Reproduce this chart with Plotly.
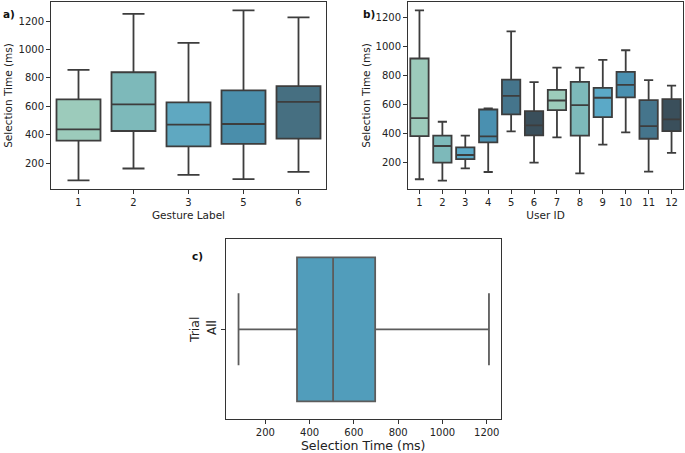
import plotly.graph_objects as go

# ---- data ----
gesture_labels = ["1", "2", "3", "5", "6"]
gesture_low = [79, 163, 118, 88, 139]
gesture_q1 = [359, 427, 319, 336, 373]
gesture_med = [438, 614, 471, 476, 632]
gesture_q3 = [649, 840, 628, 712, 742]
gesture_high = [857, 1251, 1046, 1275, 1226]
gesture_colors = ["#9ccbbb", "#7db9ba", "#5fa8c1", "#4a8eab", "#466f81"]

user_ids = ["1", "2", "3", "4", "5", "6", "7", "8", "9", "10", "11", "12"]
user_low = [88, 79, 163, 138, 417, 202, 376, 129, 326, 411, 141, 269]
user_q1 = [385, 202, 227, 342, 534, 390, 564, 388, 516, 651, 367, 420]
user_med = [509, 317, 255, 383, 662, 459, 630, 598, 649, 738, 454, 500]
user_q3 = [919, 388, 308, 568, 774, 557, 703, 758, 717, 827, 632, 639]
user_high = [1250, 484, 388, 575, 1106, 756, 857, 857, 909, 976, 770, 733]
user_colors = ["#9ccbbb", "#7db9ba", "#5ba9c7", "#4a90b0", "#45758c", "#3a4f5b",
               "#9ccbbb", "#7db9ba", "#5ba9c7", "#4a90b0", "#45758c", "#3a4f5b"]

trial_label = ["All"]
trial_low = [79]
trial_q1 = [343]
trial_med = [506]
trial_q3 = [696]
trial_high = [1210]
trial_color = "#519dbb"

FONT = "DejaVu Sans"
LINE = "#3d3d3d"
FRAME = "#333333"

fig = go.Figure()

for i, lab in enumerate(gesture_labels):
    fig.add_trace(go.Box(
        x=[lab], q1=[gesture_q1[i]], median=[gesture_med[i]], q3=[gesture_q3[i]],
        lowerfence=[gesture_low[i]], upperfence=[gesture_high[i]],
        boxpoints=False, width=0.8, whiskerwidth=0.5,
        fillcolor=gesture_colors[i], line=dict(color=LINE, width=1.8),
        xaxis="x", yaxis="y", showlegend=False))

for i, lab in enumerate(user_ids):
    fig.add_trace(go.Box(
        x=[lab], q1=[user_q1[i]], median=[user_med[i]], q3=[user_q3[i]],
        lowerfence=[user_low[i]], upperfence=[user_high[i]],
        boxpoints=False, width=0.8, whiskerwidth=0.5,
        fillcolor=user_colors[i], line=dict(color=LINE, width=1.8),
        xaxis="x2", yaxis="y2", showlegend=False))

fig.add_trace(go.Box(
    y=trial_label, q1=trial_q1, median=trial_med, q3=trial_q3,
    lowerfence=trial_low, upperfence=trial_high, orientation="h",
    boxpoints=False, width=0.8, whiskerwidth=0.5,
    fillcolor=trial_color, line=dict(color="#5c5c5c", width=1.8),
    xaxis="x3", yaxis="y3", showlegend=False))

W, H = 685, 453


def px_dom(a, b, total, flip=False):
    if flip:
        return [1 - b / total, 1 - a / total]
    return [a / total, b / total]


axis_common = dict(showline=True, mirror=True, linecolor=FRAME, linewidth=1,
                   ticks="outside", ticklen=4, tickwidth=1, tickcolor=FRAME,
                   showgrid=False, zeroline=False,
                   tickfont=dict(family=FONT, size=10, color="#222"))

fig.update_layout(
    width=W, height=H, margin=dict(l=0, r=0, t=0, b=0),
    paper_bgcolor="white", plot_bgcolor="white", boxmode="overlay",
    font=dict(family=FONT, size=10, color="#222"),
    xaxis=dict(domain=px_dom(51, 326, W), type="category", anchor="y",
               range=[-0.5, 4.5],
               title=dict(text="Gesture Label", standoff=4,
                          font=dict(family=FONT, size=10.5)), **axis_common),
    yaxis=dict(domain=px_dom(2, 189, H, flip=True), anchor="x",
               range=[19, 1334], tickvals=[200, 400, 600, 800, 1000, 1200],
               title=dict(text="Selection Time (ms)", standoff=3,
                          font=dict(family=FONT, size=10.5)), **axis_common),
    xaxis2=dict(domain=px_dom(408, 683, W), type="category", anchor="y2",
                range=[-0.5, 11.5],
                title=dict(text="User ID", standoff=4,
                           font=dict(family=FONT, size=10.5)), **axis_common),
    yaxis2=dict(domain=px_dom(2, 189, H, flip=True), anchor="x2",
                range=[21, 1308], tickvals=[200, 400, 600, 800, 1000, 1200],
                title=dict(text="Selection Time (ms)", standoff=2,
                           font=dict(family=FONT, size=10.5)), **axis_common),
    xaxis3=dict(domain=px_dom(225.7, 500.7, W), anchor="y3",
                range=[21, 1263], tickvals=[200, 400, 600, 800, 1000, 1200],
                title=dict(text="Selection Time (ms)", standoff=3,
                           font=dict(family=FONT, size=12.5)), **axis_common),
    yaxis3=dict(domain=px_dom(239.3, 419.3, H, flip=True), anchor="x3",
                type="category", range=[-0.5, 0.5], tickangle=-90,
                title=dict(text="Trial", standoff=2,
                           font=dict(family=FONT, size=12.5)),
                **{k: v for k, v in axis_common.items() if k != "tickfont"},
                tickfont=dict(family=FONT, size=12, color="#222")),
    annotations=[
        dict(text="<b>a)</b>", x=1 / W, y=1 - 6 / H, xref="paper", yref="paper",
             xanchor="left", yanchor="top", showarrow=False,
             font=dict(family=FONT, size=10.5, color="#111")),
        dict(text="<b>b)</b>", x=361 / W, y=1 - 6 / H, xref="paper", yref="paper",
             xanchor="left", yanchor="top", showarrow=False,
             font=dict(family=FONT, size=10.5, color="#111")),
        dict(text="<b>c)</b>", x=190 / W, y=1 - 248 / H, xref="paper", yref="paper",
             xanchor="left", yanchor="top", showarrow=False,
             font=dict(family=FONT, size=10.5, color="#111")),
    ],
)

fig.write_html("out.html", config={"displayModeBar": False},
               post_script="document.body.style.margin='0';")
